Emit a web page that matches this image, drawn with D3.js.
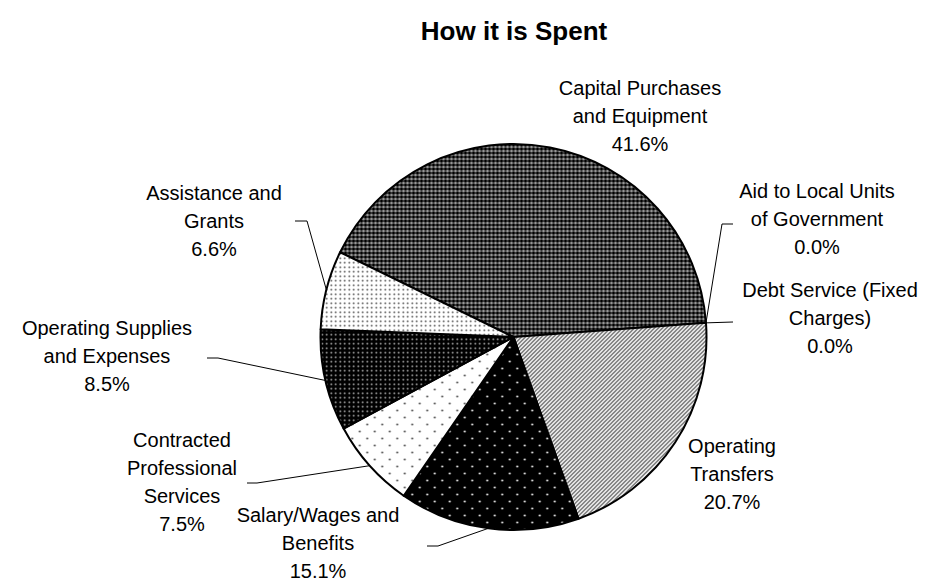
<!DOCTYPE html>
<html>
<head>
<meta charset="utf-8">
<script src="https://cdn.jsdelivr.net/npm/d3@7"></script>
<style>
  body { margin: 0; background: #fff; }
  text { font-family: "Liberation Sans", Arial, sans-serif; fill: #000; }
</style>
</head>
<body>
<svg width="935" height="583"></svg>
<script>
// data, clockwise from the Capital slice
const categories = [
  'Capital Purchases and Equipment',
  'Aid to Local Units of Government',
  'Debt Service (Fixed Charges)',
  'Operating Transfers',
  'Salary/Wages and Benefits',
  'Contracted Professional Services',
  'Operating Supplies and Expenses',
  'Assistance and Grants'
];
const values = [41.6, 0.0, 0.0, 20.7, 15.1, 7.5, 8.5, 6.6];
const labelLines = [
  ['Capital Purchases', 'and Equipment'],
  ['Aid to Local Units', 'of Government'],
  ['Debt Service (Fixed', 'Charges)'],
  ['Operating', 'Transfers'],
  ['Salary/Wages and', 'Benefits'],
  ['Contracted', 'Professional', 'Services'],
  ['Operating Supplies', 'and Expenses'],
  ['Assistance and', 'Grants']
];
const title = 'How it is Spent';

const svg = d3.select('svg');

const cx = 513.5, cy = 337, radius = 193;
const startDeg = -63.96;

// fill patterns
const defs = svg.append('defs');
const pat = (id, w, h) => defs.append('pattern')
  .attr('id', id).attr('patternUnits', 'userSpaceOnUse')
  .attr('width', w).attr('height', h);

let p = pat('p-capital', 4, 4);
p.append('rect').attr('width', 4).attr('height', 4).attr('fill', '#5c5c5c');
[[0,0],[4,0],[0,4],[4,4]].forEach(([x, y]) =>
  p.append('circle').attr('cx', x).attr('cy', y).attr('r', 1.5).attr('fill', '#000'));
p.append('circle').attr('cx', 2).attr('cy', 2).attr('r', 0.7).attr('fill', '#fff');

p = pat('p-transfers', 4, 4);
p.append('rect').attr('width', 4).attr('height', 4).attr('fill', '#fff');
p.append('path').attr('d', 'M-1,1 L1,-1 M0,4 L4,0 M3,5 L5,3')
  .attr('stroke', '#444').attr('stroke-width', 1.2);

p = pat('p-salary', 15, 14);
p.append('rect').attr('width', 15).attr('height', 14).attr('fill', '#000');
p.append('circle').attr('cx', 3.75).attr('cy', 3.5).attr('r', 1).attr('fill', '#fff');
p.append('circle').attr('cx', 11.25).attr('cy', 10.5).attr('r', 1).attr('fill', '#fff');

p = pat('p-contracted', 15, 14);
p.append('rect').attr('width', 15).attr('height', 14).attr('fill', '#fff');
p.append('circle').attr('cx', 3.75).attr('cy', 3.5).attr('r', 1).attr('fill', '#444');
p.append('circle').attr('cx', 11.25).attr('cy', 10.5).attr('r', 1).attr('fill', '#444');

p = pat('p-supplies', 4.5, 4.5);
p.append('rect').attr('width', 4.5).attr('height', 4.5).attr('fill', '#000');
p.append('circle').attr('cx', 2.25).attr('cy', 2.25).attr('r', 0.9).attr('fill', '#bbb');

p = pat('p-assist', 4.5, 4.5);
p.append('rect').attr('width', 4.5).attr('height', 4.5).attr('fill', '#fff');
p.append('circle').attr('cx', 2.25).attr('cy', 2.25).attr('r', 0.9).attr('fill', '#444');

const fills = ['p-capital', null, null, 'p-transfers', 'p-salary', 'p-contracted', 'p-supplies', 'p-assist'];

// label layout: center x, first baseline, leader elbow (null = no leader)
const labelPos = [
  {x: 640, y: 95,  elbow: null},
  {x: 817, y: 198, elbow: [[733, 224], [722, 224]]},
  {x: 830, y: 297, elbow: [[733, 322]]},
  {x: 732, y: 453, elbow: null},
  {x: 318, y: 522, elbow: [[427, 546], [438, 546]]},
  {x: 182, y: 447, elbow: [[247, 483], [257, 483]]},
  {x: 107, y: 335, elbow: [[207, 358], [218, 358]]},
  {x: 214, y: 200, elbow: [[295, 221], [307, 221]]}
];

const pie = d3.pie().sort(null).value(d => d)
  .startAngle(startDeg * Math.PI / 180)
  .endAngle(startDeg * Math.PI / 180 + 2 * Math.PI);
const arcs = pie(values);

const arc = d3.arc().innerRadius(0).outerRadius(radius);

svg.append('text')
  .attr('x', 514)
  .attr('y', 40)
  .attr('text-anchor', 'middle')
  .attr('font-weight', 'bold')
  .attr('font-size', 26)
  .text(title);

const g = svg.append('g').attr('transform', `translate(${cx},${cy})`);

g.selectAll('path.slice').data(arcs.filter(d => d.value > 0))
  .enter().append('path')
    .attr('class', 'slice')
    .attr('d', arc)
    .attr('fill', d => `url(#${fills[d.index]})`)
    .attr('stroke', '#000')
    .attr('stroke-width', 2)
    .attr('stroke-linejoin', 'round');

// leader lines
arcs.forEach((d, i) => {
  const lp = labelPos[i];
  if (!lp.elbow) return;
  const a = (d.startAngle + d.endAngle) / 2;
  const edge = [cx + radius * Math.sin(a), cy - radius * Math.cos(a)];
  svg.append('path')
    .attr('d', d3.line()([...lp.elbow, edge]))
    .attr('fill', 'none')
    .attr('stroke', '#000')
    .attr('stroke-width', 1);
});

// labels
const lineH = 28;
arcs.forEach((d, i) => {
  const lp = labelPos[i];
  const t = svg.append('text')
    .attr('text-anchor', 'middle')
    .attr('font-size', 20);
  const lines = [...labelLines[i], d3.format('.1f')(values[i]) + '%'];
  lines.forEach((s, k) => {
    t.append('tspan').attr('x', lp.x).attr('y', lp.y + k * lineH).text(s);
  });
});
</script>
</body>
</html>
